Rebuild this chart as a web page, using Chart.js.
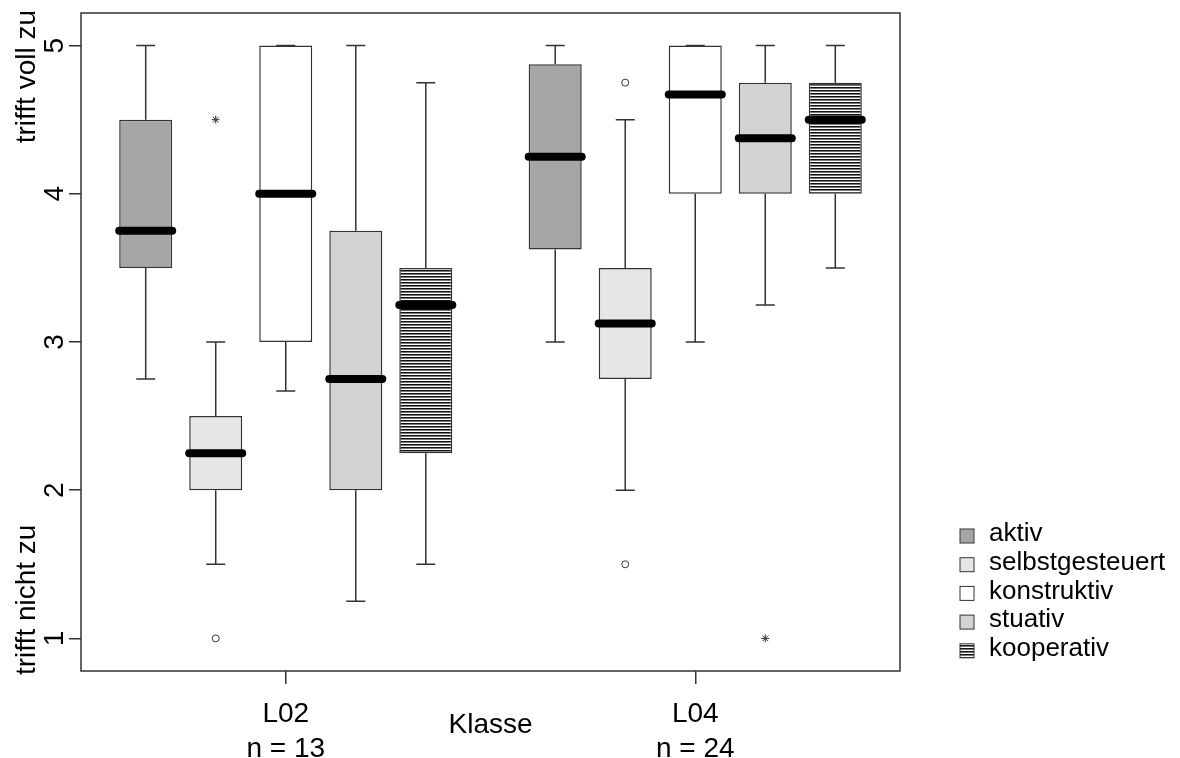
<!DOCTYPE html>
<html>
<head>
<meta charset="utf-8">
<title>Klasse L02 / L04</title>
<script src="https://cdn.jsdelivr.net/npm/chart.js@4.4.1/dist/chart.umd.min.js"></script>
<style>
  html, body { margin: 0; padding: 0; background: #fff; }
</style>
</head>
<body>
<canvas id="boxChart" width="1180" height="758"></canvas>
<script>
const categories = [["L02", "n = 13"], ["L04", "n = 24"]];
const seriesNames = ["aktiv", "selbstgesteuert", "konstruktiv", "stuativ", "kooperativ"];

// [min, q1, median, q3, max] for L02 and L04
const aktiv = [[2.75, 3.5, 3.75, 4.5, 5], [3, 3.625, 4.25, 4.875, 5]];
const selbstgesteuert = [[1.5, 2, 2.25, 2.5, 3], [2, 2.75, 3.125, 3.5, 4.5]];
const konstruktiv = [[2.67, 3, 4, 5, 5], [3, 4, 4.67, 5, 5]];
const stuativ = [[1.25, 2, 2.75, 3.75, 5], [3.25, 4, 4.375, 4.75, 5]];
const kooperativ = [[1.5, 2.25, 3.25, 3.5, 4.75], [3.5, 4, 4.5, 4.75, 5]];

// outliers: [series, class index, value]
const circleOutliers = [
  ["selbstgesteuert", 0, 1],
  ["selbstgesteuert", 1, 4.75],
  ["selbstgesteuert", 1, 1.5],
];
const starOutliers = [
  ["selbstgesteuert", 0, 4.5],
  ["stuativ", 1, 1],
];

const yTicks = [1, 2, 3, 4, 5];
const yLabelTop = "trifft voll zu";
const yLabelBottom = "trifft nicht zu";

const FONT = "Arial, 'Liberation Sans', Helvetica, sans-serif";
const LINE = "#333";

function stripePattern() {
  const c = document.createElement("canvas");
  c.width = 4;
  c.height = 3;
  const g = c.getContext("2d");
  g.fillStyle = "#fff";
  g.fillRect(0, 0, 4, 3);
  g.fillStyle = "#111";
  g.fillRect(0, 0, 4, 1);
  g.fillStyle = "#777";
  g.fillRect(0, 1, 4, 1);
  return g.createPattern(c, "repeat");
}

const allStats = [aktiv, selbstgesteuert, konstruktiv, stuativ, kooperativ];
const fills = ["#a6a6a6", "#e6e6e6", "#ffffff", "#d3d3d3", stripePattern()];

const datasets = seriesNames.map((name, i) => ({
  label: name,
  data: allStats[i].map((s) => [s[1], s[3]]),
  stats: allStats[i],
  backgroundColor: fills[i],
  borderColor: LINE,
  borderWidth: 1.5,
  borderSkipped: false,
  categoryPercentage: 0.855,
  barPercentage: 0.757,
}));

// whiskers, medians, outliers, frame
const boxExtras = {
  id: "boxExtras",
  afterDatasetsDraw(chart) {
    const ctx = chart.ctx;
    const y = chart.scales.y;
    const area = chart.chartArea;
    ctx.save();
    chart.data.datasets.forEach((ds, i) => {
      const meta = chart.getDatasetMeta(i);
      meta.data.forEach((bar, j) => {
        const s = ds.stats[j];
        const x = bar.x;
        const half = bar.width / 2;
        const cap = 9.5;
        ctx.strokeStyle = LINE;
        ctx.lineWidth = 1.5;
        ctx.lineCap = "butt";
        ctx.beginPath();
        ctx.moveTo(x, y.getPixelForValue(s[3]));
        ctx.lineTo(x, y.getPixelForValue(s[4]));
        ctx.moveTo(x, y.getPixelForValue(s[1]));
        ctx.lineTo(x, y.getPixelForValue(s[0]));
        ctx.moveTo(x - cap, y.getPixelForValue(s[4]));
        ctx.lineTo(x + cap, y.getPixelForValue(s[4]));
        ctx.moveTo(x - cap, y.getPixelForValue(s[0]));
        ctx.lineTo(x + cap, y.getPixelForValue(s[0]));
        ctx.stroke();

        ctx.strokeStyle = "#000";
        ctx.lineWidth = 8;
        ctx.lineCap = "round";
        ctx.beginPath();
        ctx.moveTo(x - half, y.getPixelForValue(s[2]));
        ctx.lineTo(x + half, y.getPixelForValue(s[2]));
        ctx.stroke();
      });
    });

    const barFor = (name, j) => chart.getDatasetMeta(seriesNames.indexOf(name)).data[j];
    ctx.strokeStyle = LINE;
    ctx.lineWidth = 1;
    ctx.lineCap = "butt";
    circleOutliers.forEach(([name, j, v]) => {
      const bar = barFor(name, j);
      ctx.beginPath();
      ctx.arc(bar.x, y.getPixelForValue(v), 3.5, 0, Math.PI * 2);
      ctx.stroke();
    });
    starOutliers.forEach(([name, j, v]) => {
      const bar = barFor(name, j);
      Chart.helpers.drawPoint(ctx, { pointStyle: "star", radius: 4, borderWidth: 1 }, bar.x, y.getPixelForValue(v));
    });

    ctx.strokeStyle = LINE;
    ctx.lineWidth = 1.5;
    ctx.strokeRect(area.left, area.top, area.right - area.left, area.bottom - area.top);
    ctx.restore();
  },
  afterDraw(chart) {
    const ctx = chart.ctx;
    const area = chart.chartArea;
    ctx.save();
    // y end labels
    ctx.fillStyle = "#000";
    ctx.font = "28px " + FONT;
    ctx.textBaseline = "alphabetic";
    ctx.translate(35, area.top - 3);
    ctx.rotate(-Math.PI / 2);
    ctx.textAlign = "right";
    ctx.fillText(yLabelTop, 0, 0);
    ctx.restore();

    ctx.save();
    ctx.fillStyle = "#000";
    ctx.font = "28px " + FONT;
    ctx.textBaseline = "alphabetic";
    ctx.translate(35, area.bottom + 4);
    ctx.rotate(-Math.PI / 2);
    ctx.textAlign = "left";
    ctx.fillText(yLabelBottom, 0, 0);
    ctx.restore();

    // legend
    ctx.save();
    ctx.font = "26px " + FONT;
    ctx.textBaseline = "middle";
    ctx.textAlign = "left";
    const lx = area.right + 60;
    chart.data.datasets.forEach((ds, i) => {
      const cy = 536 + i * 28.7;
      ctx.fillStyle = ds.backgroundColor;
      ctx.fillRect(lx, cy - 7, 14, 14);
      ctx.strokeStyle = LINE;
      ctx.lineWidth = 1;
      ctx.strokeRect(lx, cy - 7, 14, 14);
      ctx.fillStyle = "#000";
      ctx.fillText(ds.label, lx + 29, cy - 2);
    });
    ctx.restore();
  },
};

new Chart(document.getElementById("boxChart"), {
  type: "bar",
  data: { labels: categories, datasets: datasets },
  options: {
    responsive: false,
    animation: false,
    devicePixelRatio: 1,
    layout: { padding: { top: 13, right: 280, bottom: 0, left: 0 } },
    plugins: {
      legend: { display: false },
      tooltip: { enabled: false },
    },
    scales: {
      x: {
        grid: {
          display: true,
          offset: false,
          drawOnChartArea: false,
          drawTicks: true,
          tickLength: 13,
          color: LINE,
          lineWidth: 1.5,
        },
        border: { display: false },
        ticks: {
          color: "#000",
          padding: 13,
          font: { family: FONT, size: 28, lineHeight: 1.25 },
        },
        title: {
          display: true,
          text: "Klasse",
          color: "#000",
          font: { family: FONT, size: 28 },
          padding: { top: 0, bottom: 16 },
        },
        afterFit(scale) {
          scale.height = 87;
        },
      },
      y: {
        min: 0.78,
        max: 5.22,
        grid: {
          display: true,
          drawOnChartArea: false,
          drawTicks: true,
          tickLength: 12,
          color: LINE,
          lineWidth: 1.5,
        },
        border: { display: false },
        afterBuildTicks(scale) {
          scale.ticks = yTicks.map((v) => ({ value: v }));
        },
        ticks: {
          color: "#000",
          minRotation: 90,
          maxRotation: 90,
          crossAlign: "center",
          padding: 6,
          font: { family: FONT, size: 28, lineHeight: 0.1 },
        },
        afterFit(scale) {
          scale.width = 81;
        },
      },
    },
  },
  plugins: [boxExtras],
});
</script>
</body>
</html>
